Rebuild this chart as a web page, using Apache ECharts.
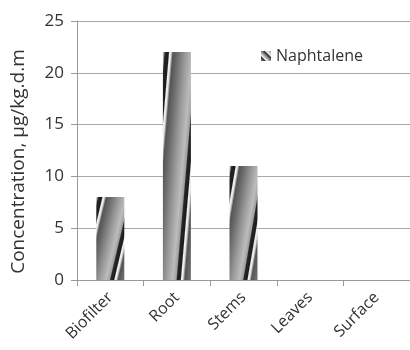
<!DOCTYPE html>
<html>
<head>
<meta charset="utf-8">
<script src="https://cdn.jsdelivr.net/npm/echarts@6/dist/echarts.min.js"></script>
<style>html,body{margin:0;padding:0;background:#fff;}#c{width:410px;height:350px;}</style>
</head>
<body>
<div id="c"></div>
<script>
var categories = ['Biofilter', 'Root', 'Stems', 'Leaves', 'Surface'];
var naphtalene = [8, 22, 11, 0, 0];
var yTicks = [0, 5, 10, 15, 20, 25];
var seriesName = 'Naphtalene';
var yName = 'Concentration, µg/kg.d.m';

var GRID = {left: 77, top: 21, width: 335, height: 259};
var BAR_W = 28;
var YMAX = 25;
var FONT = '"Open Sans", "Liberation Sans", sans-serif';

// stripe profile along u = x + k*y (normalized bar coords)
var K = 0.7, U = 1.9;
var profile = [
  [0, '#c8c8c8'], [0.05, '#909090'], [0.08, '#252525'], [0.20, '#1c1c1c'],
  [0.24, '#f4f4f4'], [0.29, '#e2e2e2'], [0.36, '#555555'], [0.55, '#707070'],
  [0.8, '#999999'], [1.05, '#bcbcbc'], [1.17, '#a0a0a0'], [1.21, '#262626'],
  [1.32, '#1c1c1c'], [1.36, '#f4f4f4'], [1.41, '#e2e2e2'], [1.48, '#555555'],
  [1.67, '#707070'], [1.9, '#909090']
];
function stripeGradient(w, h) {
  var denom = 1 / (w * w) + K * K / (h * h);
  var t = U / denom;
  return new echarts.graphic.LinearGradient(0, 0, t / (w * w), t * K / (h * h),
    profile.map(function (p) { return {offset: p[0] / U, color: p[1]}; }));
}
var legendColor = new echarts.graphic.LinearGradient(0, 1, 1, 0, [
  {offset: 0, color: '#888'}, {offset: 0.2, color: '#333'}, {offset: 0.3, color: '#eee'},
  {offset: 0.5, color: '#888'}, {offset: 0.65, color: '#333'}, {offset: 0.75, color: '#eee'},
  {offset: 1, color: '#999'}
]);

var barData = naphtalene.map(function (v) {
  var h = Math.max(v / YMAX * GRID.height, 1);
  return {value: v, itemStyle: {color: stripeGradient(BAR_W, h)}};
});

var chart = echarts.init(document.getElementById('c'), null, {renderer: 'canvas'});
chart.setOption({
  animation: false,
  backgroundColor: '#fff',
  grid: GRID,
  legend: {
    data: [seriesName], left: 256, top: 43, itemWidth: 10, itemHeight: 10, itemGap: 8,
    icon: 'rect',
    textStyle: {fontFamily: FONT, fontSize: 16, color: '#333'}
  },
  xAxis: {
    type: 'category', data: categories,
    axisLine: {lineStyle: {color: '#9a9a9a', width: 1}},
    axisTick: {show: true, length: 6, lineStyle: {color: '#9a9a9a'}},
    axisLabel: {rotate: 45, fontFamily: FONT, fontSize: 16, color: '#333', margin: 15}
  },
  yAxis: {
    type: 'value', min: yTicks[0], max: yTicks[yTicks.length - 1], interval: yTicks[1] - yTicks[0],
    name: yName, nameLocation: 'middle', nameGap: 49,
    nameTextStyle: {fontFamily: FONT, fontSize: 19, color: '#333', padding: [0, 22, 0, 0]},
    axisLine: {show: true, lineStyle: {color: '#9a9a9a'}},
    axisTick: {show: true, length: 6, lineStyle: {color: '#9a9a9a'}},
    splitLine: {lineStyle: {color: '#a8a8a8', width: 1}},
    axisLabel: {fontFamily: FONT, fontSize: 17, color: '#333', margin: 13}
  },
  series: [{
    name: seriesName, type: 'bar', data: barData, barWidth: BAR_W,
    itemStyle: {color: legendColor}
  }]
});
</script>
</body>
</html>
